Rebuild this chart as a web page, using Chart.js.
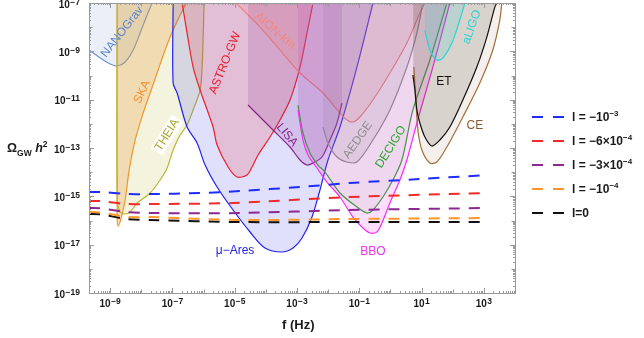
<!DOCTYPE html>
<html>
<head>
<meta charset="utf-8">
<script src="https://cdn.jsdelivr.net/npm/chart.js@4.4.1/dist/chart.umd.min.js"></script>
<style>
  html, body { margin: 0; padding: 0; background: #fff; }
  #wrap { position: relative; width: 644px; height: 338px; font-family: "Liberation Sans", Arial, sans-serif; }
  #c { position: absolute; left: 0; top: 0; }
  .t { position: absolute; white-space: nowrap; color: #1a1a1a; font-weight: bold; line-height: 1; }
  .t sub, .t sup { font-size: 8.5px; line-height: 0; }
  .leg { position: absolute; left: 532px; height: 14px; font-size: 12px; font-weight: bold; color: #1a1a1a; white-space: nowrap; }
  .leg .d { position: absolute; top: 6px; width: 11px; height: 2px; }
  .leg .lbl { position: absolute; left: 40px; top: 0; line-height: 14px; }
  .leg sup { font-size: 8px; line-height: 0; }
</style>
</head>
<body>
<div id="wrap">
  <canvas id="c" width="644" height="338"></canvas>
  <div class="t" style="left:7px; top:142px; font-size:12.5px;">Ω<sub>GW</sub> <i>h</i><sup>2</sup></div>
  <div class="t" style="left:282px; top:318px; font-size:13px;">f (Hz)</div>
  <div id="legend"></div>
</div>
<script>
// ——— Datos (pares [log10 f/Hz, log10 Ω h²]) ————————————————
const xMinExp = -9.68, xMaxExp = 4;
const yMinExp = -19, yMaxExp = -7;
const fTickExps = [-9, -7, -5, -3, -1, 1, 3];
const omegaTickExps = [-19, -17, -15, -13, -11, -9, -7];

const nanograv = [[-9.68, -8.946], [-9.321, -9.277], [-9, -9.526], [-8.775, -9.608], [-8.519, -9.443], [-8.262, -8.946], [-8.038, -8.243], [-7.813, -7.498], [-7.653, -7.0]];
const ska = [[-8.775, -7.0], [-8.775, -15.897], [-8.743, -16.228], [-8.647, -15.897], [-8.519, -15.152], [-8.39, -13.911], [-8.198, -12.67], [-7.941, -11.553], [-7.717, -10.725], [-7.492, -9.898], [-7.236, -8.946], [-6.979, -8.119], [-6.562, -7.0]];
const theia = [[-8.775, -7.0], [-8.775, -15.152], [-8.679, -15.649], [-8.519, -15.731], [-8.358, -15.649], [-8.134, -15.276], [-7.717, -14.863], [-7.396, -14.325], [-7.171, -13.828], [-6.979, -13.083], [-6.754, -12.463], [-6.53, -12.049], [-6.337, -11.428], [-6.113, -10.601], [-6.048, -9.65], [-5.984, -7.0]];
const muAres = [[-6.979, -7.0], [-6.979, -10.312], [-6.85, -10.725], [-6.53, -12.132], [-6.209, -12.794], [-5.952, -13.704], [-5.567, -14.614], [-5.054, -15.566], [-4.508, -16.476], [-4.027, -17.138], [-3.482, -17.304], [-3.129, -17.138], [-2.84, -16.724], [-2.519, -15.856], [-2.263, -14.739], [-2.006, -13.497], [-1.621, -12.132], [-1.076, -9.65], [-0.562, -7.0]];
const astroGW = [[-6.69, -7.0], [-6.53, -8.243], [-6.337, -9.65], [-6.113, -10.601], [-5.696, -12.132], [-5.567, -12.877], [-5.214, -13.787], [-4.926, -14.201], [-4.605, -14.118], [-4.444, -13.787], [-4.252, -13.29], [-3.867, -12.546], [-3.546, -11.842], [-3.225, -11.015], [-2.904, -9.65], [-2.68, -8.243], [-2.487, -7.0]];
const aionKm = [[-4.958, -7.0], [-4.188, -7.995], [-3.546, -8.946], [-2.904, -9.898], [-2.166, -10.725], [-1.621, -11.553], [-1.396, -11.842], [-1.204, -11.925], [-0.98, -11.718], [-0.562, -11.015], [-0.017, -9.898], [0.528, -8.657], [0.945, -7.415], [1.106, -7.0]];
const lisa = [[-4.573, -11.222], [-4.188, -11.718], [-3.771, -12.256], [-3.225, -12.959], [-2.904, -13.497], [-2.68, -13.704], [-2.487, -13.621], [-2.198, -13.373], [-1.942, -12.67], [-1.717, -11.966], [-1.557, -11.139]];
const aedge = [[-2.166, -12.132], [-2.006, -12.794], [-1.717, -13.373], [-1.396, -13.58], [-1.076, -13.58], [-0.562, -12.67], [-0.017, -11.428], [0.528, -9.65], [0.849, -8.243], [1.042, -7.0]];
const decigo = [[-2.969, -11.222], [-2.808, -12.38], [-2.584, -13.208], [-2.327, -13.704], [-2.102, -13.994], [-1.621, -14.863], [-1.076, -15.442], [-0.755, -15.69], [-0.562, -15.566], [-0.242, -15.028], [0.079, -14.325], [0.368, -13.497], [0.721, -11.428], [1.266, -9.36], [1.812, -7.0]];
const bbo = [[-2.969, -11.428], [-2.808, -12.67], [-2.648, -13.29], [-2.359, -13.828], [-2.038, -14.407], [-1.621, -15.028], [-1.204, -15.856], [-0.883, -16.311], [-0.659, -16.518], [-0.434, -16.476], [-0.274, -16.104], [-0.017, -15.276], [0.304, -14.325], [0.528, -13.497], [0.849, -11.966], [1.362, -9.65], [1.908, -7.0]];
const aligo = [[1.106, -8.119], [1.266, -8.946], [1.491, -9.36], [1.683, -9.277], [1.972, -8.657], [2.229, -7.705], [2.389, -7.0]];
const et = [[0.721, -9.98], [0.785, -10.601], [0.849, -11.428], [0.945, -11.966], [1.106, -12.546], [1.33, -12.918], [1.587, -12.67], [1.908, -12.132], [2.325, -11.015], [2.774, -9.65], [3.095, -8.409], [3.352, -7.17], [3.416, -7.0]];
const ce = [[0.753, -9.65], [0.817, -11.015], [0.881, -12.256], [1.01, -13.083], [1.266, -13.621], [1.491, -13.58], [1.812, -12.959], [2.325, -11.718], [2.87, -10.312], [3.287, -8.946], [3.512, -7.705], [3.576, -7.0]];

const lineLabels = ["l = −10<sup>−3</sup>", "l = −6×10<sup>−4</sup>", "l = −3×10<sup>−4</sup>", "l = −10<sup>−4</sup>", "l=0"];
const lineM3 = [[-9.68, -14.821], [-9.3, -14.821], [-8.455, -14.904], [-7.717, -14.904], [-6.113, -14.863], [-4.829, -14.78], [-2.904, -14.614], [-1.3, -14.449], [0.945, -14.283], [3.127, -14.118]];
const lineM6e4 = [[-9.68, -15.194], [-9.3, -15.2], [-8.455, -15.318], [-7.717, -15.318], [-5.054, -15.276], [-1.3, -15.028], [3.127, -14.863]];
const lineM3e4 = [[-9.68, -15.483], [-9.3, -15.5], [-8.455, -15.649], [-7.717, -15.69], [-4.829, -15.69], [-1.3, -15.566], [3.127, -15.483]];
const lineM1e4 = [[-9.68, -15.649], [-9.3, -15.67], [-8.455, -15.856], [-7.717, -15.856], [-4.829, -15.98], [-1.3, -15.938], [3.127, -15.897]];
const lineZero = [[-9.68, -15.731], [-9.3, -15.75], [-8.455, -15.938], [-7.717, -15.98], [-4.829, -16.063], [-1.3, -16.063], [3.127, -16.063]];

// ——— Helpers ———————————————————————————————————————
const FONT = '"Liberation Sans", Arial, sans-serif';
const toPts = (arr) => arr.map(([lf, lo]) => ({ x: 10 ** lf, y: 10 ** lo }));

function region(label, arr, color, fill) {
    return { label, data: toPts(arr), borderColor: color, backgroundColor: fill, borderWidth: 1.2, fill: "end", pointRadius: 0, tension: 0.3, order: 2 };
}
function dashed(label, arr, color) {
    return { label, data: toPts(arr), borderColor: color, borderDash: [11, 9], borderWidth: 2, fill: false, pointRadius: 0, tension: 0.3, order: 1 };
}

const lineColors = ["#1f2cff", "#f22a2a", "#8c2890", "#ff962a", "#111111"];

const datasets = [
    dashed(lineLabels[0], lineM3, lineColors[0]),
    dashed(lineLabels[1], lineM6e4, lineColors[1]),
    dashed(lineLabels[2], lineM3e4, lineColors[2]),
    dashed(lineLabels[3], lineM1e4, lineColors[3]),
    dashed(lineLabels[4], lineZero, lineColors[4]),
    region("aLIGO", aligo, "#2cd3d3", "rgba(44,211,211,0.18)"),
    region("ET", et, "#111111", "rgba(60,50,40,0.15)"),
    region("CE", ce, "#a0703c", "rgba(160,112,60,0.1)"),
    region("BBO", bbo, "#f030f0", "rgba(240,48,240,0.16)"),
    region("DECIGO", decigo, "#2aa52a", "rgba(42,165,42,0.08)"),
    region("AEDGE", aedge, "#8e8e8e", "rgba(120,120,120,0.14)"),
    region("LISA", lisa, "#862486", "rgba(134,36,134,0.16)"),
    region("AION-km", aionKm, "#f4877d", "rgba(244,135,125,0.18)"),
    region("ASTRO-GW", astroGW, "#e8222e", "rgba(232,34,46,0.18)"),
    region("μ-Ares", muAres, "#2222ee", "rgba(34,34,238,0.14)"),
    region("THEIA", theia, "#b8b83a", "rgba(184,184,58,0.17)"),
    region("SKA", ska, "#f7902a", "rgba(247,144,42,0.25)"),
    region("NANOGrav", nanograv, "#6f93d3", "rgba(111,147,211,0.15)"),
];

// rótulos de cada detector: [texto, log f, log Ω, ángulo, color]
const detectorNotes = [
    ["NANOGrav", -8.615, -8.2, -52, "#5f86cc"],
    ["SKA", -7.973, -10.684, -65, "#f7902a"],
    ["THEIA", -7.171, -12.463, -58, "#a8a830", true],
    ["ASTRO-GW", -5.311, -9.484, -68, "#e8222e"],
    ["AION-km", -3.707, -8.16, 41, "#f4877d"],
    ["LISA", -3.321, -12.463, 50, "#862486"],
    ["AEDGE", -1.044, -12.67, -55, "#8e8e8e"],
    ["DECIGO", 0.015, -12.959, -58, "#2aa52a"],
    ["ET", 1.715, -10.27, 0, "#111111"],
    ["aLIGO", 2.614, -7.995, -70, "#2cd3d3"],
    ["CE", 2.71, -12.091, 0, "#8a5a30"],
    ["μ−Ares", -4.99, -17.262, 0, "#2222ee"],
    ["BBO", -0.562, -17.304, 0, "#f030f0"],
];

function drawPow(ctx, exp, x, y, align) {
    const sup = exp < 0 ? "−" + -exp : String(exp);
    ctx.font = "bold 10px " + FONT;
    const wb = ctx.measureText("10").width;
    ctx.font = "bold 8.5px " + FONT;
    const ws = ctx.measureText(sup).width;
    const total = wb + 0.5 + ws;
    const left = align === "center" ? x - total / 2 : x - total;
    ctx.textAlign = "left";
    ctx.textBaseline = "alphabetic";
    ctx.font = "bold 10px " + FONT;
    ctx.fillText("10", left, y);
    ctx.font = "bold 8.5px " + FONT;
    ctx.fillText(sup, left + wb + 0.5, y - 3);
}

const frameTicks = {
    id: "frameTicks",
    afterDatasetsDraw(chart) {
        const { ctx, scales: { x, y } } = chart;
        ctx.save();
        detectorNotes.forEach(([txt, lf, lo, ang, col, box]) => {
            const px = x.getPixelForValue(10 ** lf);
            const py = y.getPixelForValue(10 ** lo);
            ctx.save();
            ctx.translate(px, py);
            ctx.rotate((ang * Math.PI) / 180);
            ctx.font = "12px " + FONT;
            ctx.textAlign = "center";
            ctx.textBaseline = "middle";
            if (box) {
                const w = ctx.measureText(txt).width;
                ctx.fillStyle = "#ffffff";
                ctx.fillRect(-w / 2 - 2, -7, w + 4, 14);
            }
            ctx.fillStyle = col;
            ctx.fillText(txt, 0, 0);
            ctx.restore();
        });
        ctx.restore();
    },
    afterDraw(chart) {
        const { ctx, chartArea: a, scales: { x, y } } = chart;
        ctx.save();
        ctx.strokeStyle = "#9a9a9a";
        ctx.lineWidth = 1;
        ctx.strokeRect(a.left + 0.5, a.top + 0.5, a.right - a.left, a.bottom - a.top);
        ctx.beginPath();
        for (let e = -10; e <= 4; e++) {
            for (let m = 1; m < 10; m++) {
                const v = m * 10 ** e;
                if (v < x.min || v > x.max) continue;
                const px = Math.round(x.getPixelForValue(v)) + 0.5;
                const len = m === 1 ? (e % 2 ? 5 : 3.5) : 2;
                ctx.moveTo(px, a.bottom); ctx.lineTo(px, a.bottom - len);
                ctx.moveTo(px, a.top); ctx.lineTo(px, a.top + len);
            }
        }
        for (let e = -20; e <= -7; e++) {
            for (let m = 1; m < 10; m++) {
                const v = m * 10 ** e;
                if (v < y.min || v > y.max) continue;
                const py = Math.round(y.getPixelForValue(v)) + 0.5;
                const len = m === 1 ? (e % 2 ? 5 : 3.5) : 2;
                ctx.moveTo(a.left, py); ctx.lineTo(a.left + len, py);
                ctx.moveTo(a.right, py); ctx.lineTo(a.right - len, py);
            }
        }
        ctx.stroke();
        ctx.fillStyle = "#1a1a1a";
        fTickExps.forEach((e) => drawPow(ctx, e, x.getPixelForValue(10 ** e), a.bottom + 14, "center"));
        omegaTickExps.forEach((e) => drawPow(ctx, e, a.left - 9, y.getPixelForValue(10 ** e) + 4.5, "right"));
        ctx.restore();
    },
};

// ——— Principal ——————————————————————————————————————
new Chart(document.getElementById("c"), {
    type: "line",
    data: { datasets },
    options: {
        responsive: false,
        animation: false,
        devicePixelRatio: 1,
        events: [],
        layout: { padding: { left: 0, right: 129, top: 3, bottom: 0 } },
        plugins: { legend: { display: false }, tooltip: { enabled: false } },
        scales: {
            x: {
                type: "logarithmic",
                min: 10 ** xMinExp,
                max: 10 ** xMaxExp,
                grid: { display: false },
                border: { display: false },
                ticks: { display: false },
                afterFit: (s) => { s.height = 45; },
            },
            y: {
                type: "logarithmic",
                min: 10 ** yMinExp,
                max: 10 ** yMaxExp,
                grid: { display: false },
                border: { display: false },
                ticks: { display: false },
                afterFit: (s) => { s.width = 89; },
            },
        },
    },
    plugins: [frameTicks],
});

// leyenda
const legend = document.getElementById("legend");
lineLabels.forEach((txt, i) => {
    const row = document.createElement("div");
    row.className = "leg";
    row.style.top = 110 + i * 24 + "px";
    row.innerHTML = `<span class="d" style="left:0;background:${lineColors[i]}"></span>
        <span class="d" style="left:21px;background:${lineColors[i]}"></span>
        <span class="lbl">${txt}</span>`;
    legend.appendChild(row);
});
</script>
</body>
</html>
